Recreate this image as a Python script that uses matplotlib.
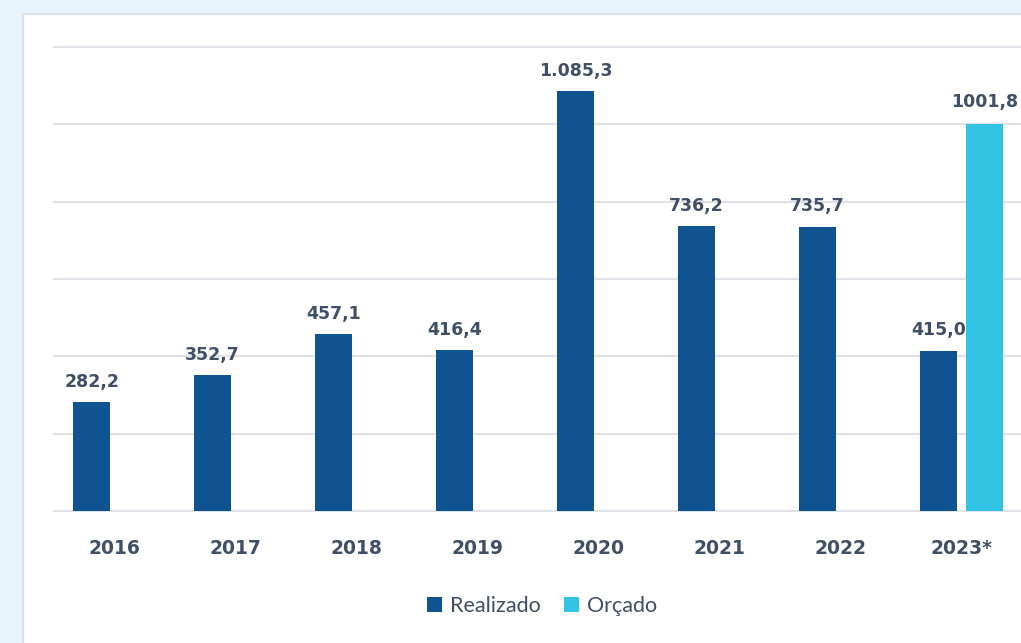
import numpy as np
import matplotlib
matplotlib.use("Agg")
from matplotlib import pyplot as plt
from matplotlib.patches import Rectangle

# data
years = ['2016', '2017', '2018', '2019', '2020', '2021', '2022', '2023*']
realizado = [282.2, 352.7, 457.1, 416.4, 1085.3, 736.2, 735.7, 415.0]
realizado_txt = ['282,2', '352,7', '457,1', '416,4', '1.085,3', '736,2', '735,7', '415,0']
orcado_years = ['2023*']
orcado = [1001.8]
orcado_txt = ['1001,8']

dark = '#0f5390'
cyan = '#31c4e4'
txtcol = '#404f66'
gridcol = '#dfe3e8'

fig = plt.figure(figsize=(10.21, 6.43), dpi=100)
fig.patch.set_facecolor('#e8f4fb')

# white panel with thin grey border (behind the axes)
panel = Rectangle((23 / 1021, -0.1), 1.1, 1 - 14 / 643 + 0.1, transform=fig.transFigure,
                  facecolor='white', edgecolor='#dce2e7', linewidth=1.6, zorder=-10)
fig.patches.append(panel)

ax = fig.add_axes([54 / 1021, 1 - 511 / 643, 968 / 1021, (511 - 47) / 643])
ax.set_facecolor('none')

x = np.arange(len(years))
w = 0.307
off = 0.189

b1 = ax.bar(x - off, realizado, width=w, color=dark, label='Realizado', zorder=3)
xo = np.array([years.index(y) for y in orcado_years])
b2 = ax.bar(xo + off, orcado, width=w, color=cyan, label='Orçado', zorder=3)

for rect, t in zip(b1, realizado_txt):
    ax.annotate(t, (rect.get_x() + rect.get_width() / 2, rect.get_height()),
                xytext=(0, 8), textcoords='offset points', ha='center', va='bottom',
                fontsize=12.5, fontweight='bold', color=txtcol)
for rect, t in zip(b2, orcado_txt):
    ax.annotate(t, (rect.get_x() + rect.get_width() / 2, rect.get_height()),
                xytext=(0, 9), textcoords='offset points', ha='center', va='bottom',
                fontsize=12.5, fontweight='bold', color=txtcol)

ax.set_xlim(-0.5, 7.5)
ax.set_ylim(0, 1200)
ax.set_yticks(np.arange(0, 1201, 200))
ax.yaxis.grid(True, color=gridcol, linewidth=1.5, zorder=0)
for gl in ax.get_ygridlines():
    gl.set_clip_on(False)
ax.set_yticklabels([])
ax.tick_params(axis='y', length=0)
ax.set_xticks(x)
ax.set_xticklabels(years, fontsize=13.5, fontweight='bold', color=txtcol)
ax.tick_params(axis='x', length=0, pad=20)
for s in ax.spines.values():
    s.set_visible(False)

fig.legend(handles=[b1, b2], loc='center', bbox_to_anchor=(542 / 1021, 1 - 606 / 643),
           ncol=2, frameon=False, handlelength=0.7, handleheight=0.7, handletextpad=0.35,
           columnspacing=1.1, prop={'family': 'Lato', 'size': 15.5}, labelcolor=txtcol)

fig.savefig('out.png', dpi=100, facecolor=fig.get_facecolor())
